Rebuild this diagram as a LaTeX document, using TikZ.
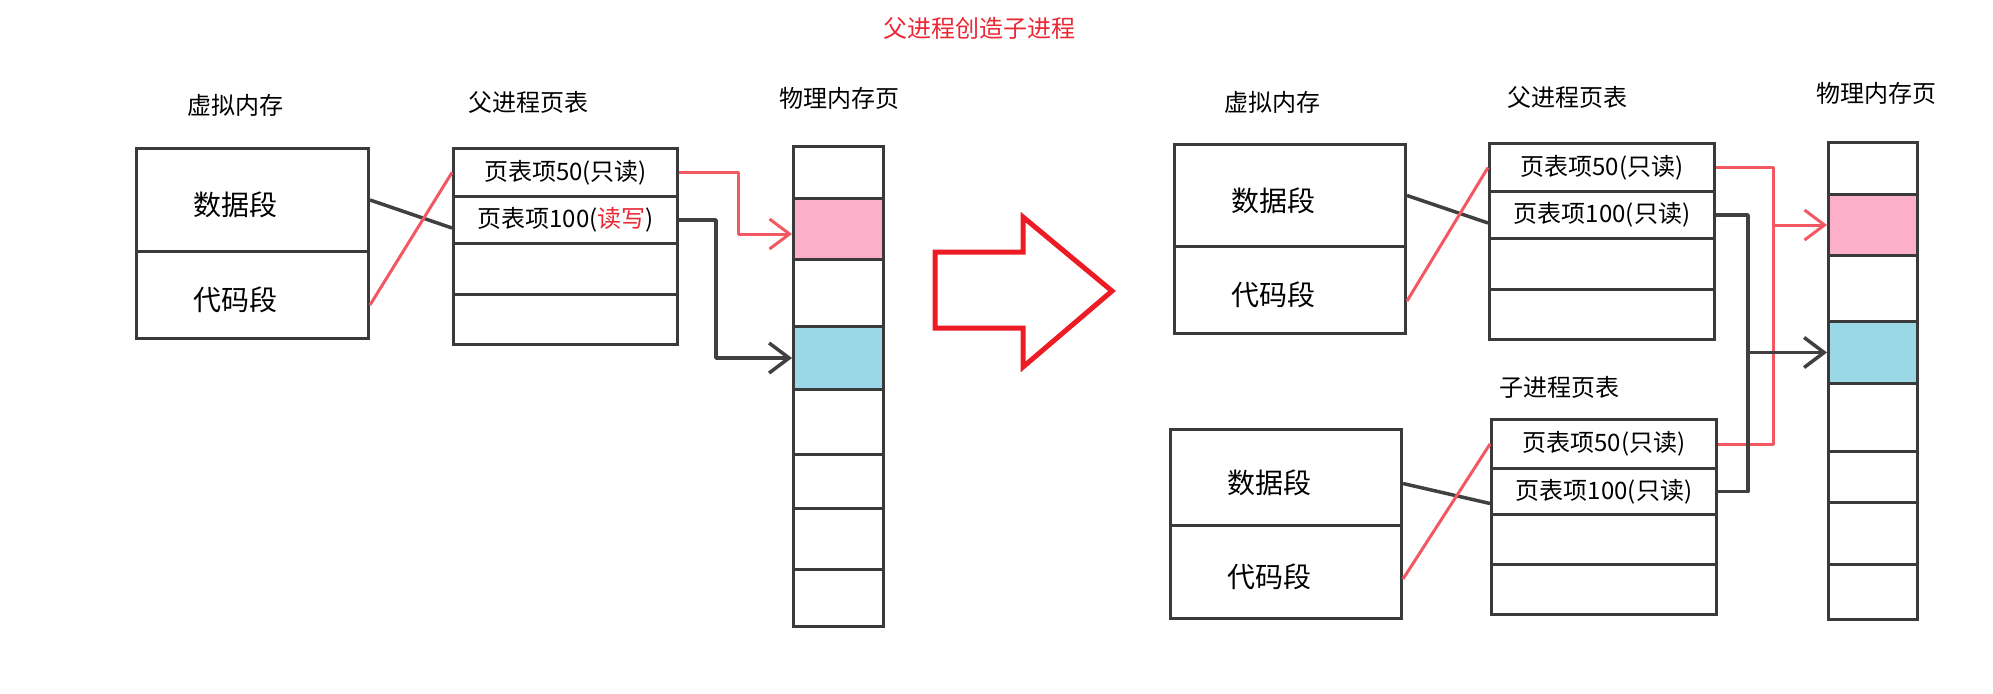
\documentclass[tikz,border=0pt]{standalone}
\usepackage{fontspec}
\setmainfont{Noto Sans CJK SC}
\usetikzlibrary{arrows.meta}
\definecolor{boxgray}{RGB}{58,58,58}
\definecolor{linkgray}{RGB}{64,64,64}
\definecolor{linkred}{RGB}{242,88,98}
\definecolor{titlered}{RGB}{233,40,52}
\definecolor{bigred}{RGB}{237,28,36}
\definecolor{pagepink}{RGB}{252,175,200}
\definecolor{pageblue}{RGB}{154,216,232}
\tikzset{
  cell/.style = {draw=boxgray, line width=3pt, inner sep=0pt, anchor=north west},
  heading/.style = {font=\fontsize{24}{28}\selectfont},
  segtext/.style = {font=\fontsize{28}{32}\selectfont, xshift=-17pt, yshift=-5pt},
  link/.style = {linkgray, line width=3.5pt, line join=round},
  redlink/.style = {linkred, line width=3pt, line join=round},
  barbtip/.style = {-{Straight Barb[length=20pt,width=30pt]}}
}

\begin{document}
\begin{tikzpicture}[x=1pt,y=-1pt]
  \useasboundingbox (0,0) rectangle (1993,693);
  \node[heading, titlered] (title) at (979,28) {父进程创造子进程};
  %
  % left: virtual memory
  \node[heading] (vmLcap) at (235,105) {虚拟内存};
  \node[cell, minimum width=232, minimum height=103, label={[segtext]center:数据段}] (vmL1) at (135,147) {};
  \node[cell, minimum width=232, minimum height=87, label={[segtext]center:代码段}] (vmL2) at (135,250) {};
  % left: parent page table
  \node[heading] (ptLcap) at (528,102) {父进程页表};
  \node[cell, heading, minimum width=224, minimum height=48] (ptL1) at (452,147) {页表项50(只读)};
  \node[cell, heading, minimum width=224, minimum height=47] (ptL2) at (452,195) {页表项100(\textcolor{titlered}{读写})};
  \node[cell, minimum width=224, minimum height=51] (ptL3) at (452,242) {};
  \node[cell, minimum width=224, minimum height=50] (ptL4) at (452,293) {};
  % left: physical pages
  \node[heading] (pmLcap) at (839,98) {物理内存页};
  \foreach \i/\ya/\yb/\col in {1/145/197/white, 2/197/258/pagepink, 3/258/325/white, 4/325/388/pageblue,
                               5/388/453/white, 6/453/507/white, 7/507/568/white, 8/568/625/white}
    \node[cell, fill=\col, minimum width=90, minimum height={\yb-\ya}] (pmL\i) at (792,\ya) {};
  % left: links
  \draw[link] (vmL1.east) -- ([yshift=-8pt]ptL2.west);
  \draw[redlink] ([yshift=-10pt]vmL2.east) -- (ptL1.west);
  \draw[redlink, barbtip] (ptL1.east) -- ++(59,0) |- ([yshift=-5pt]pmL2.west);
  \draw[link, barbtip] (ptL2.east) -- ++(37,0) |- (pmL4.west);
  %
  % big arrow
  \draw[bigred, line width=5pt] (935,252) -- (1023,252) -- (1023,217) -- (1112,291)
    -- (1023,367) -- (1023,328) -- (935,328) -- cycle;
  %
  % right: parent virtual memory
  \node[heading] (vmRcap) at (1272,102) {虚拟内存};
  \node[cell, minimum width=231, minimum height=102, label={[segtext]center:数据段}] (vmR1) at (1173,143) {};
  \node[cell, minimum width=231, minimum height=87, label={[segtext]center:代码段}] (vmR2) at (1173,245) {};
  % right: parent page table
  \node[heading] (ptRcap) at (1567,97) {父进程页表};
  \node[cell, heading, minimum width=225, minimum height=48] (ptR1) at (1488,142) {页表项50(只读)};
  \node[cell, heading, minimum width=225, minimum height=47] (ptR2) at (1488,190) {页表项100(只读)};
  \node[cell, minimum width=225, minimum height=51] (ptR3) at (1488,237) {};
  \node[cell, minimum width=225, minimum height=50] (ptR4) at (1488,288) {};
  % right: child virtual memory
  \node[cell, minimum width=231, minimum height=96, label={[segtext]center:数据段}] (vmC1) at (1169,428) {};
  \node[cell, minimum width=231, minimum height=93, label={[segtext]center:代码段}] (vmC2) at (1169,524) {};
  % right: child page table
  \node[heading] (ptCcap) at (1559,387) {子进程页表};
  \node[cell, heading, minimum width=225, minimum height=49] (ptC1) at (1490,418) {页表项50(只读)};
  \node[cell, heading, minimum width=225, minimum height=46] (ptC2) at (1490,467) {页表项100(只读)};
  \node[cell, minimum width=225, minimum height=50] (ptC3) at (1490,513) {};
  \node[cell, minimum width=225, minimum height=50] (ptC4) at (1490,563) {};
  % right: physical pages
  \node[heading] (pmRcap) at (1876,93) {物理内存页};
  \foreach \i/\ya/\yb/\col in {1/141/193/white, 2/193/254/pagepink, 3/254/320/white, 4/320/382/pageblue,
                               5/382/450/white, 6/450/501/white, 7/501/563/white, 8/563/618/white}
    \node[cell, fill=\col, minimum width=89, minimum height={\yb-\ya}] (pmR\i) at (1827,\ya) {};
  % right: links
  \coordinate (redbus) at (1773,0);
  \coordinate (graybus) at (1748,0);
  \draw[link] (vmR1.east) -- ([yshift=-8pt]ptR2.west);
  \draw[redlink] ([yshift=-11pt]vmR2.east) -- (ptR1.west);
  \draw[link] ([yshift=-6pt]vmC1.east) -- ([yshift=-12pt]ptC2.west);
  \draw[redlink] ([yshift=-7pt]vmC2.east) -- (ptC1.west);
  % shared pages
  \draw[redlink] (ptR1.east) -- (ptR1.east -| redbus) -- (ptC1.east -| redbus) -- (ptC1.east);
  \draw[redlink, barbtip] (redbus |- pmR2.west) -- (pmR2.west);
  \draw[link] (ptR2.east) -- (ptR2.east -| graybus) -- (ptC2.east -| graybus) -- (ptC2.east);
  \draw[link, barbtip] (graybus |- pmR4.west) -- (pmR4.west);
\end{tikzpicture}
\end{document}
